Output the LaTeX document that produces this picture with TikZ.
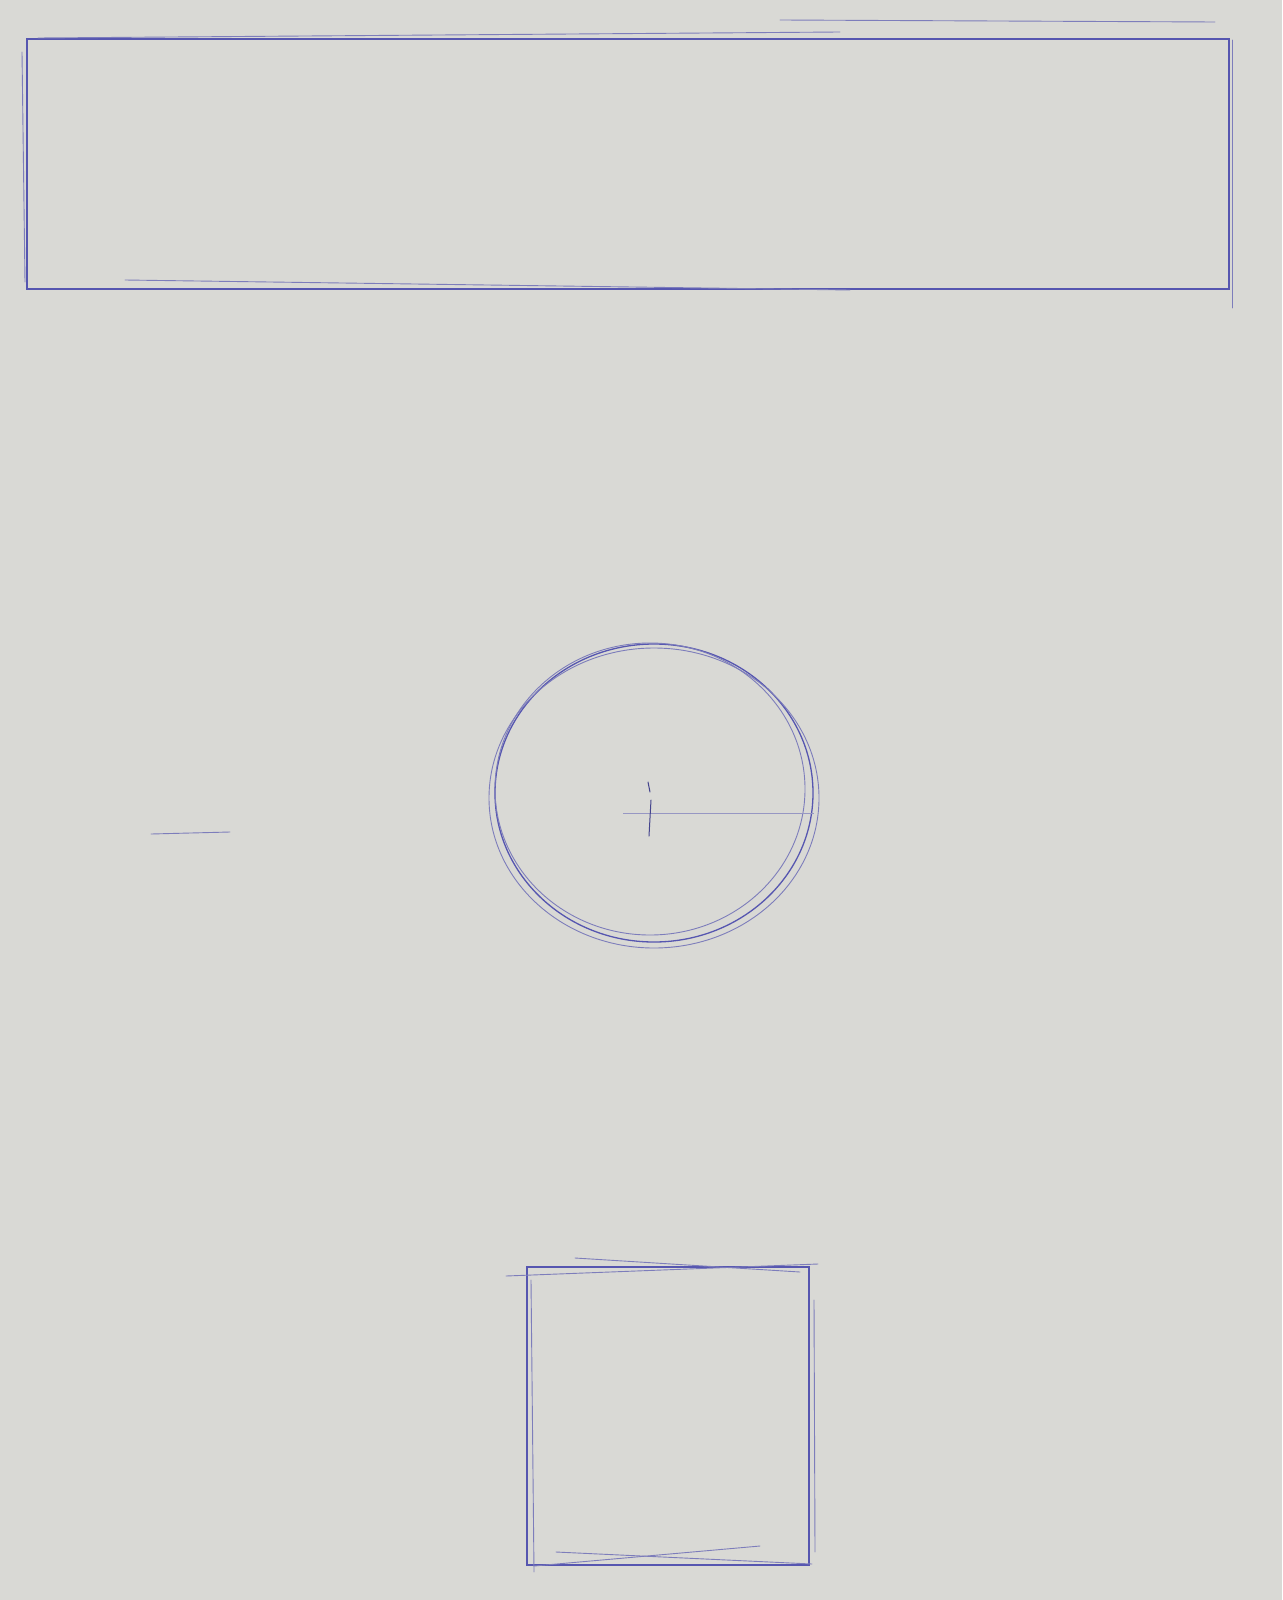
\documentclass[tikz,border=0pt]{standalone}
\usetikzlibrary{shapes.geometric}
\definecolor{paper}{HTML}{D9D9D5}
\definecolor{pen}{HTML}{5656B0}
\tikzset{
  ink/.style={draw=pen, line width=1.3pt, line cap=round},
  faint/.style={draw=pen!70!paper, line width=0.9pt, line cap=round},
}
\begin{document}
\begin{tikzpicture}[x=1pt,y=-1pt]
\fill[paper] (0,0) rectangle (1282,1600);
\useasboundingbox (0,0) rectangle (1282,1600);
% top rectangle
\node[ink, minimum width=1202pt, minimum height=250pt, inner sep=0pt] (bar) at (628,164) {};
\draw[faint] (38,38) -- (840,32);
\draw[faint] (780,20) -- (1215,22);
\draw[faint] (125,280) -- (850,290);
\draw[faint] (22,52) -- (25,282);
\draw[faint] (1232,40) -- (1232,308);
% circle
\node[ink, ellipse, minimum width=318pt, minimum height=298pt, inner sep=0pt] (circ) at (654,793) {};
\draw[faint] (654,798) ellipse [x radius=165pt, y radius=150pt];
\draw[faint] (650,789) ellipse [x radius=155pt, y radius=146pt];
\coordinate (ctr) at (650,813);
\draw[draw=pen!50!paper, line width=0.7pt] (623,813) -- (circ.east |- ctr);
\draw[draw=pen!80!black, line width=1pt, line cap=round] (648,782) -- (650,792) (651,800) -- (649,836);
% stray mark at left
\coordinate (m1) at (151,834);
\coordinate (m2) at (230,832);
\draw[faint] (m1) -- (m2);
% bottom square
\node[ink, minimum width=282pt, minimum height=298pt, inner sep=0pt] (sq) at (668,1416) {};
\draw[faint] (506,1276) -- (818,1264);
\draw[faint] (575,1258) -- (800,1272);
\draw[faint] (556,1552) -- (812,1564);
\draw[faint] (534,1566) -- (760,1546);
\draw[faint] (531,1280) -- (534,1572);
\draw[faint] (814,1300) -- (815,1552);
\end{tikzpicture}
\end{document}
